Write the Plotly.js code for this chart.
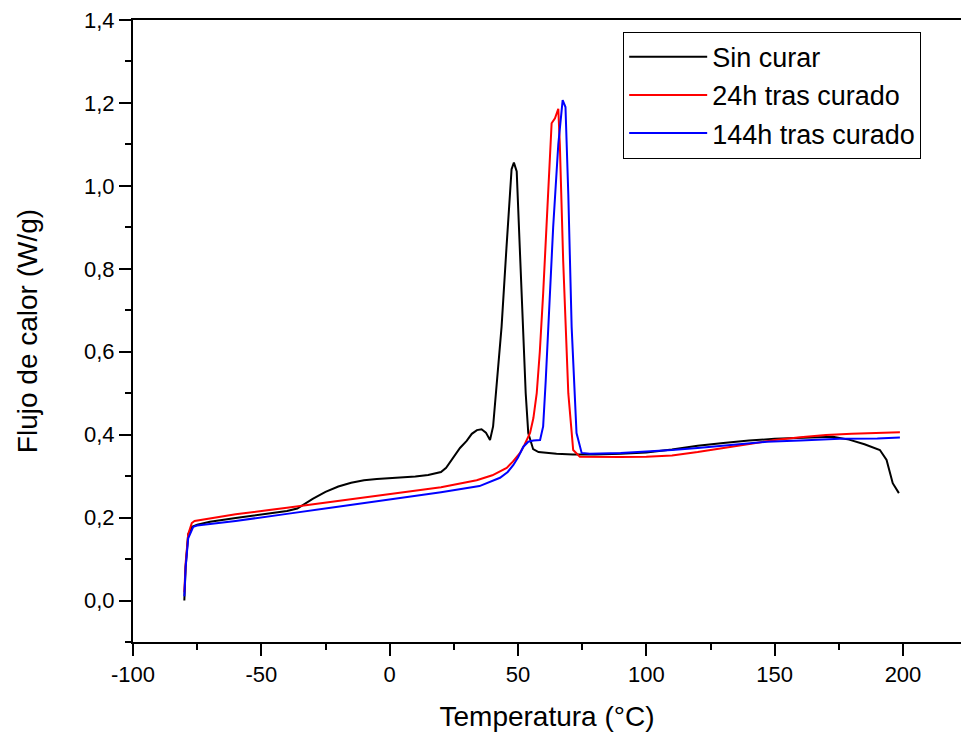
<!DOCTYPE html>
<html>
<head>
<meta charset="utf-8">
<script src="https://cdn.plot.ly/plotly-3.0.1.min.js"></script>
<style>html,body{margin:0;padding:0;background:#fff;}#chart{width:961px;height:735px;}</style>
</head>
<body>
<div id="chart"></div>
<script>
// Sin curar
const sinCurarX = [-80, -79.5, -78.5, -77, -75, -70, -60, -50, -40, -36, -30, -25, -20, -15, -10, -5, 0, 5, 10, 15, 20, 22, 25, 27.4, 30, 32, 34, 35.8, 37.5, 39.1, 40.3, 42, 43.6, 45.5, 47.5, 48.4, 49.5, 50.7, 52, 53, 54, 55.9, 58, 61, 65, 71.4, 80, 90, 100, 110, 120, 130, 140, 150, 160, 165, 172.7, 179, 185, 191, 193.6, 196, 198.4];
const sinCurarY = [0.0, 0.08, 0.16, 0.178, 0.183, 0.19, 0.199, 0.207, 0.216, 0.222, 0.245, 0.262, 0.275, 0.284, 0.29, 0.293, 0.295, 0.297, 0.299, 0.303, 0.31, 0.32, 0.345, 0.368, 0.385, 0.402, 0.411, 0.413, 0.405, 0.387, 0.42, 0.54, 0.66, 0.85, 1.04, 1.056, 1.035, 0.85, 0.66, 0.5, 0.404, 0.365, 0.358, 0.356, 0.354, 0.352, 0.352, 0.354, 0.357, 0.364, 0.373, 0.38, 0.386, 0.39, 0.392, 0.394, 0.395, 0.388, 0.377, 0.363, 0.339, 0.283, 0.259];
// 24h tras curado
const h24X = [-80, -79.5, -78.5, -77.1, -76, -74, -60, -40, -20, 0, 20, 33.9, 40, 45.6, 48, 50.8, 52.5, 54.7, 56, 57.3, 58.5, 59.8, 61.8, 63.1, 64.4, 65.2, 65.7, 66.3, 67.6, 69.6, 71.5, 74.1, 80, 90, 100, 110, 120, 130, 140, 150, 160, 170, 180, 190, 198.8];
const h24Y = [0.02, 0.09, 0.16, 0.187, 0.192, 0.194, 0.208, 0.224, 0.240, 0.2565, 0.273, 0.29, 0.302, 0.32, 0.335, 0.356, 0.375, 0.404, 0.44, 0.5, 0.6, 0.74, 0.982, 1.151, 1.163, 1.18, 1.186, 1.10, 0.82, 0.5, 0.363, 0.347, 0.346, 0.346, 0.347, 0.35, 0.358, 0.368, 0.378, 0.387, 0.394, 0.399, 0.402, 0.404, 0.406];
// 144h tras curado
const h144X = [-80, -79.5, -78.5, -76.5, -75, -60, -40, -20, 0, 20, 35, 43, 46, 48.2, 50, 52.1, 54, 56, 58.6, 59.8, 60.8, 61.8, 63.7, 65.7, 67, 67.4, 68.5, 69.6, 70.9, 72.8, 74.8, 78, 90, 100, 110, 120, 135, 146.9, 160, 175.4, 190, 198.8];
const h144Y = [0.01, 0.08, 0.15, 0.178, 0.181, 0.192, 0.209, 0.226, 0.244, 0.261, 0.276, 0.296, 0.31, 0.327, 0.345, 0.371, 0.383, 0.386, 0.387, 0.42, 0.53, 0.66, 0.90, 1.10, 1.19, 1.207, 1.19, 0.98, 0.66, 0.404, 0.356, 0.354, 0.356, 0.359, 0.363, 0.368, 0.376, 0.383, 0.386, 0.39, 0.391, 0.393];

const seriesNames = ["Sin curar", "24h tras curado", "144h tras curado"];
const xTickVals = [-100, -50, 0, 50, 100, 150, 200];
const xTickText = ["-100", "-50", "0", "50", "100", "150", "200"];
const yTickVals = [0, 0.2, 0.4, 0.6, 0.8, 1.0, 1.2, 1.4];
const yTickText = ["0,0", "0,2", "0,4", "0,6", "0,8", "1,0", "1,2", "1,4"];

const FONT = "Liberation Sans, Arial, sans-serif";

const traces = [
  {x: sinCurarX, y: sinCurarY, name: seriesNames[0], legendgroup: "a", mode: "lines", line: {color: "#000000", width: 2}},
  {x: h24X, y: h24Y, name: seriesNames[1], legendgroup: "b", mode: "lines", line: {color: "#ff0000", width: 2}},
  {x: h144X, y: h144Y, name: seriesNames[2], legendgroup: "c", mode: "lines", line: {color: "#0000ff", width: 2}}
];

const layout = {
  width: 961, height: 735,
  margin: {l: 133, r: 0, t: 20, b: 93},
  paper_bgcolor: "#ffffff", plot_bgcolor: "#ffffff",
  font: {family: FONT, color: "#000000", size: 22},
  showlegend: true,
  legend: {
    x: 0.592, y: 0.981, xanchor: "left", yanchor: "top",
    bordercolor: "#000000", borderwidth: 1, bgcolor: "#ffffff",
    font: {family: FONT, size: 27, color: "#000000"},
    tracegroupgap: 1, traceorder: "normal", itemwidth: 78
  },
  xaxis: {
    range: [-100, 222.6], showgrid: false, zeroline: false,
    showline: true, linecolor: "#000000", linewidth: 2, mirror: true,
    ticks: "outside", ticklen: 12, tickwidth: 2, tickcolor: "#000000",
    tickmode: "array", tickvals: xTickVals, ticktext: xTickText,
    tickfont: {family: FONT, size: 22},
    minor: {tickmode: "linear", tick0: -100, dtick: 25, ticks: "outside", ticklen: 6, tickwidth: 2, tickcolor: "#000000", showgrid: false},
    title: {text: "Temperatura (°C)", font: {family: FONT, size: 28}, standoff: 20}
  },
  yaxis: {
    range: [-0.1, 1.4], showgrid: false, zeroline: false,
    showline: true, linecolor: "#000000", linewidth: 2, mirror: false,
    ticks: "outside", ticklen: 12, tickwidth: 2, tickcolor: "#000000",
    tickmode: "array", tickvals: yTickVals, ticktext: yTickText,
    tickfont: {family: FONT, size: 22},
    minor: {tickmode: "linear", tick0: 0, dtick: 0.1, ticks: "outside", ticklen: 6, tickwidth: 2, tickcolor: "#000000", showgrid: false},
    title: {text: "Flujo de calor (W/g)", font: {family: FONT, size: 28}, standoff: 38}
  }
};

Plotly.newPlot("chart", traces, layout, {displayModeBar: false, staticPlot: true});
</script>
</body>
</html>
